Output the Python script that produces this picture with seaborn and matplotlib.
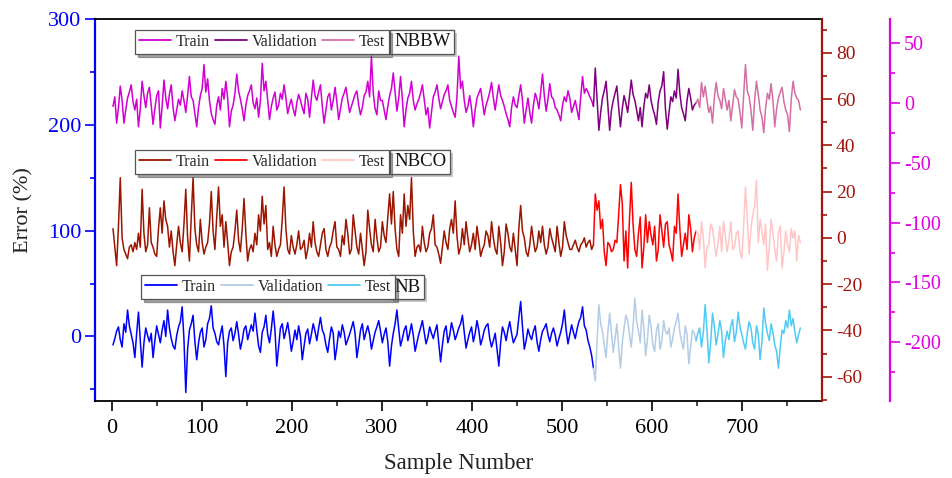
import numpy as np
import seaborn as sns
import matplotlib.pyplot as plt
from matplotlib.lines import Line2D
from matplotlib.ticker import MultipleLocator
from matplotlib import patheffects

sns.set_style('ticks')
plt.rcParams['font.family'] = ['Liberation Serif', 'DejaVu Serif']
plt.rcParams['axes.unicode_minus'] = False

# NB error (%), left axis -- about one value every 2 samples
nb_train = [-8, -2, 5, 9, -3, -10, 12, 4, 25, 10, 2, -6, -20, 3, 23, -4, -29, -6, 8, 1,
            -5, 3, -20, -4, 10, 2, -6, 6, 15, 0, 25, 8, -2, -9, -12, 1, 9, 14, 28, -3,
            -53, -12, 6, 12, 20, -5, -22, -6, 4, 8, -10, -3, 12, 17, 29, 8, 3, -5, -8, 2,
            10, -9, -38, -6, 5, 8, -4, 3, 14, 2, -12, -4, 7, 10, -3, 4, 11, 5, 22, 6,
            -9, -15, 4, 9, 20, 2, -6, 7, 24, 6, -28, -10, 8, 12, -2, 5, 13, 1, -14, -5,
            6, -3, 10, 0, -22, -9, 3, 7, -7, 2, 12, 5, -4, 8, 18, 6, 2, -8, -15, -2,
            9, 3, -22, -10, 5, -1, 11, 4, -8, -3, 2, 8, 14, 3, -20, -8, 6, 12, -3, 4,
            10, 2, -12, -4, 4, 9, 15, 5, -6, 2, 8, -5, -28, -9, 3, 12, 25, 7, -9, -2,
            6, 10, -4, 3, 12, 1, -14, -6, 2, 8, 15, 4, -7, -1, 9, 3, -2, 5, 11, -6,
            -24, -8, 5, 10, -6, 1, 13, 6, -3, 2, 8, 12, 20, 4, -11, -3, 4, 9, -5, 3,
            15, 6, -8, -2, 6, 10, 12, -2, -10, -4, 3, -12, -28, -6, 9, 4, -4, 6, 14, 3,
            -6, -2, 2, 18, 33, 9, -12, -4, 7, 1, -3, 5, 10, -5, -14, -3, 5, 8, 12, 2,
            -5, 3, 8, 1, -9, -2, 4, 12, 25, 6, -7, 2, 11, 4, -2, 7, 14, 18, 28, 10,
            6, -4, -10, -18, -30]
nb_val = [-42, -5, 30, 12, 5, -8, -20, 4, 22, 3, -15, -2, 12, -10, -30, -6, 8, 20, 15, 2,
          -10, 10, 36, 14, 5, -6, 25, 8, -18, -3, 20, 9, -8, -14, 6, 12, -12, -4, 15, 5,
          2, 8, -10, -2, 8, 14, 22, 4, -5, -12, 10, 2, -26, -10, 6, 3, -4]
nb_test = [3, 8, -10, 4, 30, 6, -25, -6, 22, 10, -8, 2, 15, 5, -20, -4, 5, -3, 10, 16,
           -5, 4, 23, 9, 2, -6, -12, 3, 14, 8, -6, -12, 10, 2, -22, -5, 27, 12, 3, -4,
           12, 4, -8, -14, -30, -10, 6, 3, 15, 8, 25, 10, 17, 4, -6, 2, 8]

# NBCO error (%), red axis
nbco_train = [4, -4, -12, 5, 26, 0, -5, -7, -9, -4, -3, -6, -2, -5, 2, -4, 21, 2, -6, -3,
              13, -2, -4, -7, -8, 4, 13, 2, 16, 8, 5, -4, 3, -6, -12, -3, 5, -2, -6, 6,
              21, 0, -10, 9, 26, 4, -3, -6, 8, -2, -7, -4, -2, 6, 20, 3, -5, 9, 22, 5,
              10, -4, 7, -2, -12, -6, -4, 3, 12, -1, -6, 4, 17, 2, -10, -5, -3, -6, 2, -3,
              10, 3, 18, 6, 14, -5, -2, -8, 5, -3, -8, -5, -3, 8, 22, 4, -5, -7, 1, -4,
              -7, -3, 3, -5, -4, -1, -9, -5, 2, -4, 7, -2, -6, -8, -3, 2, 4, -5, -8, -4,
              -2, 3, 7, -4, -5, -8, 1, -3, 8, 2, -7, -5, 10, 3, -4, -7, 2, -5, -12, -6,
              12, 4, -3, -6, 8, 0, -6, -4, 7, 1, -2, 9, 19, 6, 20, 4, -5, -8, 10, 2,
              19, 5, 14, 8, 26, 3, -8, -4, -3, -6, 5, -2, -6, -4, 2, 4, 10, -3, -4, -7,
              -11, -4, 3, -2, -5, 4, 8, 2, 16, 1, -7, -4, 4, -3, 7, 0, -6, -3, 2, -5,
              5, -1, -8, -5, -3, 3, 1, -4, 7, 0, -5, -7, 5, -2, -12, -6, 6, 2, -4, -6,
              2, -5, -12, 4, 14, 3, 0, -6, -8, -3, 5, -1, -6, -4, 3, -2, 5, -3, -7, -4,
              4, 0, -3, -6, 5, -2, -8, -4, 7, 1, -2, -5, -5, -3, -1, -4, -6, -3, -2, 0,
              -4, -2, -1, -5, -3]
nbco_val = [19, 12, 16, 4, 8, -6, -12, -2, -3, -6, -5, -1, -2, 10, 23, 15, -10, 3, -13, 8,
            24, 6, -5, -8, 2, 9, -13, -4, 10, -2, 7, 1, -3, 5, -10, -5, 10, 3, -4, 6,
            7, -3, -6, -10, 5, 2, 19, 4, -8, -3, 2, -5, 10, 4, -6, 0, 3]
nbco_test = [2, -5, 7, 0, -13, -4, -3, 6, 4, -2, -8, -3, 5, -6, 7, 1, -6, -1, 7, -5,
             -4, 2, 3, -6, -9, 5, 22, 8, -7, 4, 10, 14, 25, -2, 8, 3, -3, 6, -14, -4,
             8, 2, -5, -10, 2, 5, -13, -6, 3, -3, -6, 4, 0, 3, -10, 1, -2]

# NBBW error (%), magenta axis
nbbw_train = [-3, 5, -17, -4, 14, 2, -17, -6, 4, 9, 15, 1, -6, 3, -20, -5, 18, 6, -4, 8,
              13, -2, -18, -5, 6, 10, -21, -3, 19, 4, -5, 7, 15, -4, -15, -6, 3, -2, 10, 2,
              -8, 6, 22, 5, 2, -9, -20, -4, 6, 12, 32, 9, 20, 2, -9, -14, -18, -2, 5, -6,
              12, 3, 18, 4, -20, -7, -2, 8, 24, 10, 3, -5, -15, -2, 6, 10, 15, 0, -5, 4,
              -12, 2, 33, 10, 18, 2, -14, -3, 4, 9, -6, -2, 8, 3, 15, 4, -9, -2, 3, -5,
              -11, 0, 7, 2, -4, -9, 8, 3, -12, 4, 19, 6, 2, 9, 15, -3, -17, -6, 5, 8,
              -6, 2, 13, 1, -14, -5, 4, 8, 13, 2, -8, -3, 2, 7, 10, -2, -10, -4, 6, 9,
              18, 5, 39, 8, -5, -10, 10, 2, 2, -6, -14, -3, 6, 12, 25, 9, -7, 4, 22, 3,
              -20, -6, 4, 8, 18, 2, -6, -1, 3, 8, 15, 3, -10, -4, -21, -8, 5, 9, 15, 4,
              -5, 1, 7, 10, 15, 2, -3, -8, -12, 5, 39, 12, 18, 2, -8, -3, 6, -5, -20, -6,
              4, 8, 12, 1, -10, -2, 3, 9, 17, 4, -6, 5, 15, 6, 2, -3, -9, -14, -20, -4,
              5, -2, -4, 6, 15, 2, -17, -6, 4, -8, -17, -2, 8, 3, -5, 9, 24, 6, -7, 3,
              16, 5, 3, -4, -6, -10, -15, -2, 5, 1, 10, 4, -8, -3, 2, -6, -14, 5, 22, 8,
              12, 9, 5, 2, -3]
nbbw_val = [29, 3, -23, -8, 4, 10, 18, -2, -23, -6, 2, 8, 14, -4, -20, -5, 6, 0, -8, 5,
            19, 7, 2, -6, -15, -4, -20, -3, 8, 4, 15, 2, -5, -10, -18, 1, 10, 14, 26, -5,
            -22, -8, 5, 1, 10, 4, 28, 8, -4, -9, -15, 2, 12, 4, -6, -2, 0]
nbbw_test = [3, -4, 17, 5, 14, 2, -8, -3, -17, 4, 17, 6, 2, -5, 12, 3, -6, 2, -15, -2,
             11, 5, 3, -8, -21, 6, 32, 10, 5, -6, -23, 2, 18, 7, -6, -12, -25, -4, 8, 3,
             16, 2, -20, -5, 4, 9, 13, 1, -6, -10, -24, 3, 18, 8, 4, 2, -6]

# sample-number range of each split (first, last)
split_range = [(1, 535), (537, 649), (651, 765)]
split_labels = ['Train', 'Validation', 'Test']
nb_colors = ['#0000FF', '#B4CCE6', '#4FCBF5']
nbco_colors = ['#9B1500', '#FF0000', '#FFC6C6']
nbbw_colors = ['#D200D2', '#7E007E', '#D46FA4']

blue_ax = '#0000FF'
red_ax = '#A3140C'
mag_ax = '#E000E0'

fig = plt.figure(figsize=(9.53, 4.78), dpi=100)
ax = fig.add_axes([95 / 953, 1 - 401 / 478, 727 / 953, 382 / 478])
ax2 = ax.twinx()
ax3 = ax.twinx()
ax3.spines['right'].set_position(('axes', 1.0935))


def draw_series(axis, tr, va, te, colors):
    xs_all = [np.linspace(a, b, len(v)) for (a, b), v in zip(split_range, [tr, va, te])]
    xs = [xs_all[0], np.r_[xs_all[0][-1], xs_all[1]], np.r_[xs_all[1][-1], xs_all[2]]]
    ys = [np.array(tr), np.r_[tr[-1], va], np.r_[va[-1], te]]
    for x, y, c in zip(xs, ys, colors):
        sns.lineplot(x=x, y=y, ax=axis, color=c, linewidth=1.1)


draw_series(ax, nb_train, nb_val, nb_test, nb_colors)
draw_series(ax2, nbco_train, nbco_val, nbco_test, nbco_colors)
draw_series(ax3, nbbw_train, nbbw_val, nbbw_test, nbbw_colors)

ax.set_xlim(-19, 789)
ax.set_ylim(-61, 300)
ax2.set_ylim(-70.5, 94.6)
ax3.set_ylim(-249, 70)

ax.xaxis.set_major_locator(MultipleLocator(100))
ax.xaxis.set_minor_locator(MultipleLocator(50))
ax.yaxis.set_major_locator(MultipleLocator(100))
ax.yaxis.set_minor_locator(MultipleLocator(50))
ax2.yaxis.set_major_locator(MultipleLocator(20))
ax2.yaxis.set_minor_locator(MultipleLocator(10))
ax3.yaxis.set_major_locator(MultipleLocator(50))
ax3.yaxis.set_minor_locator(MultipleLocator(25))

for a in (ax, ax2, ax3):
    a.tick_params(which='major', direction='out', length=7, width=1.2, labelsize=14, pad=3)
    a.tick_params(which='minor', direction='out', length=3.5, width=1.2)

ax.set_xticks(range(0, 701, 100))
ax.tick_params(axis='x', colors='black', labelsize=16, pad=6)
ax.tick_params(axis='y', which='both', colors=blue_ax, labelcolor=blue_ax, labelsize=16)
ax2.tick_params(axis='y', which='both', colors=red_ax, labelcolor=red_ax)
ax3.tick_params(axis='y', which='both', colors=mag_ax, labelcolor=mag_ax, labelsize=14.5)

for s in ['top', 'bottom']:
    ax.spines[s].set_color('black')
    ax.spines[s].set_linewidth(1.3)
ax.spines['left'].set_color(blue_ax)
ax.spines['left'].set_linewidth(1.6)
ax.spines['right'].set_visible(False)
for s in ['top', 'bottom', 'left']:
    ax2.spines[s].set_visible(False)
    ax3.spines[s].set_visible(False)
ax2.spines['right'].set_color(red_ax)
ax2.spines['right'].set_linewidth(1.6)
ax3.spines['right'].set_color(mag_ax)
ax3.spines['right'].set_linewidth(1.6)

ax.set_xlabel('Sample Number', fontsize=16.5, color='#222222', labelpad=11)
ax.set_ylabel('Error (%)', fontsize=16, color='#222222', labelpad=10)
ax2.set_ylabel('')
ax3.set_ylabel('')


def add_legend(colors, name, x0, y_top, y_mid, name_x):
    handles = [Line2D([], [], color=c, lw=1.3) for c in colors]
    leg = fig.legend(handles, split_labels, ncol=3, loc='upper left',
                     bbox_to_anchor=(x0 / 953, 1 - y_top / 478),
                     bbox_transform=fig.transFigure, frameon=True,
                     fancybox=False, shadow=True, fontsize=11.5,
                     handlelength=2.0, handletextpad=0.3, columnspacing=0.3,
                     borderpad=0.25, borderaxespad=0)
    leg.get_frame().set_edgecolor('#555555')
    leg.get_frame().set_linewidth(0.9)
    t = fig.text(name_x / 953, 1 - y_mid / 478, name, fontsize=13.5,
                 ha='left', va='center', color='#111111',
                 bbox=dict(boxstyle='square,pad=0.2', fc='white', ec='#555555', lw=0.9))
    t.get_bbox_patch().set_path_effects([patheffects.withSimplePatchShadow(offset=(2, -2)),
                                         patheffects.Normal()])


add_legend(nbbw_colors, 'NBBW', 135, 30, 42, 394)
add_legend(nbco_colors, 'NBCO', 135, 150, 162, 394)
add_legend(nb_colors, 'NB', 141, 275, 287, 394)

fig.savefig('out.png', dpi=100)
